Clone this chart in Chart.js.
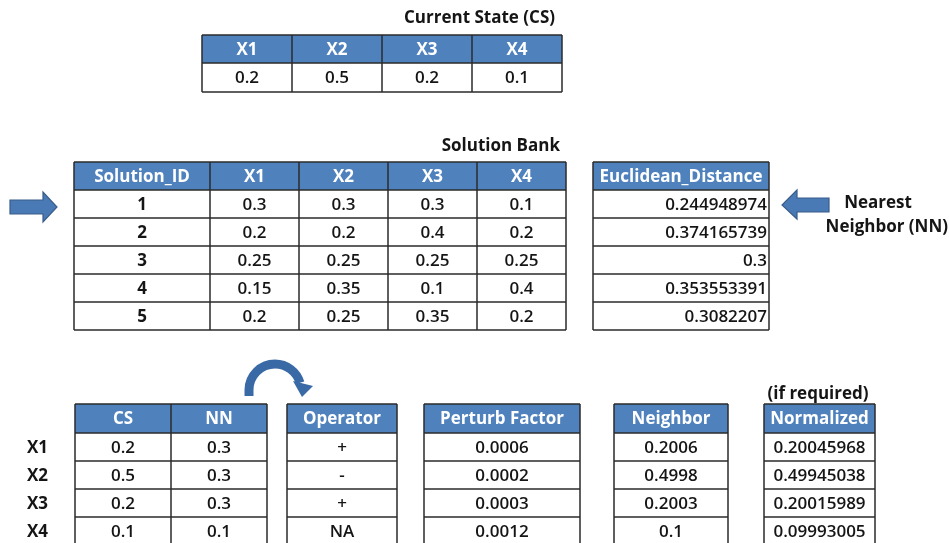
<!DOCTYPE html>
<html>
<head>
<meta charset="utf-8">
<script src="https://cdn.jsdelivr.net/npm/chart.js@4.4.0/dist/chart.umd.min.js"></script>
<style>
  html, body { margin: 0; padding: 0; background: #fff; }
  #wrap { width: 949px; height: 543px; position: relative; }
</style>
</head>
<body>
<div id="wrap"><canvas id="c"></canvas></div>
<script>
// --- DATA ---
const varNames = ['X1', 'X2', 'X3', 'X4'];
const currentState = [0.2, 0.5, 0.2, 0.1];
const solutionIds = [1, 2, 3, 4, 5];
const bankX1 = [0.3, 0.2, 0.25, 0.15, 0.2];
const bankX2 = [0.3, 0.2, 0.25, 0.35, 0.25];
const bankX3 = [0.3, 0.4, 0.25, 0.1, 0.35];
const bankX4 = [0.1, 0.2, 0.25, 0.4, 0.2];
const euclideanDistance = ['0.244948974', '0.374165739', '0.3', '0.353553391', '0.3082207'];
const nearestNeighbor = [0.3, 0.3, 0.3, 0.1];
const operators = ['+', '-', '+', 'NA'];
const perturbFactor = ['0.0006', '0.0002', '0.0003', '0.0012'];
const neighborValues = ['0.2006', '0.4998', '0.2003', '0.1'];
const normalizedValues = ['0.20045968', '0.49945038', '0.20015989', '0.09993005'];

// --- LAYOUT (page units, mapped through the chart scales) ---
const FONT = '"Open Sans", Lato, sans-serif';
const BOLD = 'bold 17px ' + FONT;
const REG = '600 17px ' + FONT;
const HEAD_BLUE = '#4f81bd';
const LINE = '#2b2b2b';
const ARROW = '#4a7ab5';

const tables = [
  { cols: [202, 292, 382, 472, 562], top: 35, headH: 28, rowH: 29,
    headers: varNames, data: currentState.map(v => [v]) },
  { cols: [74, 210, 299, 388, 477, 566], top: 162, headH: 28, rowH: 28,
    headers: ['Solution_ID'].concat(varNames),
    data: [solutionIds, bankX1, bankX2, bankX3, bankX4], boldCol: 0 },
  { cols: [593, 769], top: 162, headH: 28, rowH: 28,
    headers: ['Euclidean_Distance'], data: [euclideanDistance], align: 'right' },
  { cols: [75, 171, 267], top: 404, headH: 29, rowH: 28,
    headers: ['CS', 'NN'], data: [currentState, nearestNeighbor] },
  { cols: [287, 397], top: 404, headH: 29, rowH: 28,
    headers: ['Operator'], data: [operators] },
  { cols: [424, 580], top: 404, headH: 29, rowH: 28,
    headers: ['Perturb Factor'], data: [perturbFactor] },
  { cols: [614, 728], top: 404, headH: 29, rowH: 28,
    headers: ['Neighbor'], data: [neighborValues] },
  { cols: [764, 875], top: 404, headH: 29, rowH: 28,
    headers: ['Normalized'], data: [normalizedValues] }
];

const labels = [
  { text: 'Current State (CS)', x: 555, y: 18, align: 'right' },
  { text: 'Solution Bank', x: 560, y: 146, align: 'right' },
  { text: '(if required)', x: 818, y: 394, align: 'center' },
  { text: 'Nearest', x: 878, y: 203, align: 'center' },
  { text: 'Neighbor (NN)', x: 948, y: 227, align: 'right' }
];
// row labels for the bottom tables
const rowLabelX = 27;

function drawTable(ctx, X, Y, t) {
  const nCols = t.cols.length - 1;
  const nRows = t.data[0].length;
  const hTop = Y(t.top), hBot = Y(t.top + t.headH);
  const xL = X(t.cols[0]), xR = X(t.cols[nCols]);
  const bottom = Y(t.top + t.headH + nRows * t.rowH);

  ctx.fillStyle = '#fff';
  ctx.fillRect(xL, hBot, xR - xL, bottom - hBot);
  ctx.fillStyle = HEAD_BLUE;
  ctx.fillRect(xL, hTop, xR - xL, hBot - hTop);

  ctx.textBaseline = 'middle';
  for (let c = 0; c < nCols; c++) {
    const x0 = X(t.cols[c]), x1 = X(t.cols[c + 1]);
    ctx.fillStyle = '#fff';
    ctx.font = BOLD;
    ctx.textAlign = 'center';
    ctx.fillText(t.headers[c], (x0 + x1) / 2, (hTop + hBot) / 2 + 1);

    for (let r = 0; r < nRows; r++) {
      const y0 = Y(t.top + t.headH + r * t.rowH);
      const y1 = Y(t.top + t.headH + (r + 1) * t.rowH);
      ctx.fillStyle = '#151515';
      ctx.font = t.boldCol === c ? BOLD : REG;
      const txt = String(t.data[c][r]);
      if (t.align === 'right') {
        ctx.textAlign = 'right';
        ctx.fillText(txt, x1 - 2, (y0 + y1) / 2 + 1);
      } else {
        ctx.textAlign = 'center';
        ctx.fillText(txt, (x0 + x1) / 2, (y0 + y1) / 2 + 1);
      }
    }
  }

  // grid
  ctx.strokeStyle = LINE;
  ctx.lineWidth = 1.5;
  ctx.beginPath();
  for (let c = 0; c <= nCols; c++) {
    const x = X(t.cols[c]);
    ctx.moveTo(x, hTop);
    ctx.lineTo(x, bottom);
  }
  ctx.moveTo(xL, hTop);
  ctx.lineTo(xR, hTop);
  for (let r = 0; r <= nRows; r++) {
    const y = Y(t.top + t.headH + r * t.rowH);
    ctx.moveTo(xL, y);
    ctx.lineTo(xR, y);
  }
  ctx.stroke();
}

function drawBlockArrow(ctx, X, Y, pts) {
  ctx.beginPath();
  pts.forEach((p, i) => i ? ctx.lineTo(X(p[0]), Y(p[1])) : ctx.moveTo(X(p[0]), Y(p[1])));
  ctx.closePath();
  ctx.fillStyle = ARROW;
  ctx.fill();
  ctx.strokeStyle = '#385d8a';
  ctx.lineWidth = 1.2;
  ctx.stroke();
}

const tablePlugin = {
  id: 'tables',
  afterDraw(chart) {
    const ctx = chart.ctx;
    const X = v => chart.scales.x.getPixelForValue(v);
    const Y = v => chart.scales.y.getPixelForValue(v);
    ctx.save();

    tables.forEach(t => drawTable(ctx, X, Y, t));

    ctx.fillStyle = '#151515';
    ctx.font = BOLD;
    ctx.textBaseline = 'middle';
    labels.forEach(l => {
      ctx.textAlign = l.align;
      ctx.fillText(l.text, X(l.x), Y(l.y));
    });
    ctx.textAlign = 'left';
    varNames.forEach((n, i) => ctx.fillText(n, X(rowLabelX), Y(404 + 29 + i * 28 + 15)));

    // left and right block arrows
    drawBlockArrow(ctx, X, Y, [[10, 200], [43, 200], [43, 192], [57, 207], [43, 222], [43, 214], [10, 214]]);
    drawBlockArrow(ctx, X, Y, [[829, 198], [797, 198], [797, 190], [782, 205], [797, 219], [797, 212], [829, 212]]);

    // curved arrow
    const cx = X(275), cy = Y(390), r = X(275 + 26) - cx;
    ctx.strokeStyle = '#3a6aa6';
    ctx.lineWidth = 9;
    ctx.beginPath();
    ctx.moveTo(X(249), Y(396));
    ctx.lineTo(X(249), cy);
    ctx.arc(cx, cy, r, Math.PI, 2 * Math.PI - 0.28);
    ctx.stroke();
    ctx.beginPath();
    ctx.moveTo(X(293), Y(381));
    ctx.lineTo(X(313), Y(386));
    ctx.lineTo(X(302), Y(397));
    ctx.closePath();
    ctx.fillStyle = '#3a6aa6';
    ctx.fill();

    ctx.restore();
  }
};

new Chart(document.getElementById('c'), {
  type: 'scatter',
  data: { datasets: [{ data: [] }] },
  options: {
    responsive: true,
    maintainAspectRatio: false,
    animation: false,
    layout: { padding: 0 },
    plugins: { legend: { display: false }, tooltip: { enabled: false } },
    scales: {
      x: { type: 'linear', min: 0, max: 949, display: false },
      y: { type: 'linear', min: 0, max: 543, reverse: true, display: false }
    }
  },
  plugins: [tablePlugin]
});
</script>
</body>
</html>
